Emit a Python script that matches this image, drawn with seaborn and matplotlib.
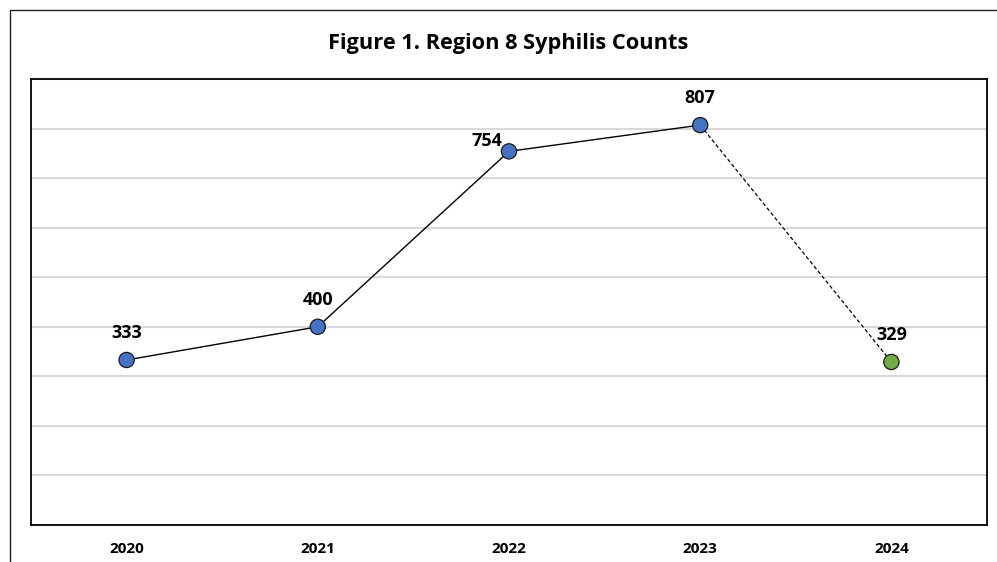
import pandas as pd
import numpy as np
import seaborn as sns
from matplotlib import pyplot as plt
from matplotlib.patches import Rectangle

years = [2020, 2021, 2022, 2023, 2024]
counts = [333, 400, 754, 807, 329]
# 2024 is provisional, drawn green with a dashed connector
status = ['final', 'final', 'final', 'final', 'provisional']
label_offsets = [(0, 27), (0, 27), (-22, 10), (0, 27), (0, 27)]

df = pd.DataFrame({'year': years, 'count': counts, 'status': status})

sns.set_theme(style='white')
plt.rcParams['font.family'] = ['Open Sans', 'DejaVu Sans']

fig = plt.figure(figsize=(9.97, 5.62), dpi=100)
fig.patch.set_facecolor('white')
ax = fig.add_axes([31 / 997, 37 / 562, 956 / 997, 446 / 562])

# outer chart border (cut off on the right and bottom)
fig.patches.append(Rectangle((10 / 997, -0.05), 1.1, 1 - 10 / 562 + 0.05,
                             transform=fig.transFigure, fill=False,
                             edgecolor='#222222', linewidth=1.0))

final = df[df['status'] == 'final']
tail = df.iloc[-2:]
sns.lineplot(data=final, x='year', y='count', ax=ax, color='black',
             linewidth=1.0, zorder=3)
sns.lineplot(data=tail, x='year', y='count', ax=ax, color='black',
             linewidth=0.9, linestyle=(0, (3, 2)), zorder=3)
sns.scatterplot(data=df, x='year', y='count', hue='status', ax=ax,
                palette={'final': '#4472C4', 'provisional': '#70AD47'},
                s=120, edgecolor='#1a1a1a', linewidth=0.9, zorder=4, legend=False)

for x, y, off in zip(years, counts, label_offsets):
    ax.annotate(str(y), (x, y), xytext=off, textcoords='offset pixels',
                ha='center', va='center', fontsize=13, fontweight='bold',
                color='black')

ax.set_xlim(years[0] - 0.5, years[-1] + 0.5)
ax.set_ylim(0, 900)
ax.set_yticks(np.arange(0, 901, 100))
ax.set_yticklabels([])
ax.tick_params(axis='y', length=0)
ax.set_xticks(years)
ax.set_xticklabels([str(y) for y in years], fontsize=11, fontweight='bold',
                   color='black')
ax.tick_params(axis='x', length=0, pad=12)
ax.grid(axis='y', color='#D9D9D9', linewidth=1.5)
ax.set_axisbelow(True)
ax.set_xlabel('')
ax.set_ylabel('')
for sp in ax.spines.values():
    sp.set_color('black')
    sp.set_linewidth(1.3)

fig.text(508 / 997, 1 - 43 / 562, 'Figure 1. Region 8 Syphilis Counts', ha='center',
         va='center', fontsize=15.7, fontweight='bold', color='black')

fig.savefig('out.png', dpi=100)
